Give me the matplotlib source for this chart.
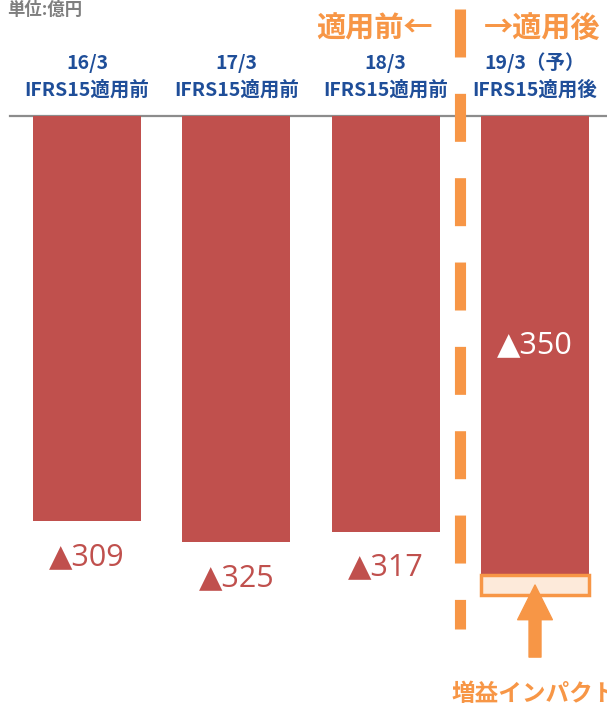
import matplotlib
matplotlib.use("Agg")
import matplotlib.pyplot as plt

# data (unit: 100 million yen, losses)
periods = ["16/3", "17/3", "18/3", "19/3（予）"]
basis = ["IFRS15適用前", "IFRS15適用前", "IFRS15適用前", "IFRS15適用後"]
losses = [309, 325, 317, 350]
impact = 15  # profit-increase impact shown under the last bar

red = "#C0504D"
orange = "#F79646"
blue = "#1F4E99"
jp = ["Noto Sans CJK JP", "DejaVu Sans"]
num = ["Open Sans", "DejaVu Sans"]

fig = plt.figure(figsize=(6.07, 7.06), dpi=100)
ax = fig.add_axes([0, 0, 1, 1])
ax.set_xlim(-0.5826, 3.482)
ax.set_ylim(-450.0, 88.5)
ax.axis("off")

x = list(range(len(losses)))
ax.bar(x, [-v for v in losses], width=0.725, color=red, zorder=2)
ax.bar(x[-1], -impact, bottom=-losses[-1], width=0.725, color="#FDEADA",
       edgecolor=orange, linewidth=2.5, zorder=3)

# baseline
ax.plot([-0.516, 3.482], [0, 0], color="#8c8c8c", lw=1.6, zorder=1)

# value labels
for i, v in enumerate(losses[:-1]):
    ax.text(i, -v - 27.4, "▲" + str(v), ha="center", va="center",
            fontsize=22, color=red, family=num)
ax.text(x[-1], -losses[-1] / 2, "▲" + str(losses[-1]), ha="center", va="center",
        fontsize=22, color="white", family=num, zorder=4)

# header labels
for i in x:
    ax.text(i, 40.4, periods[i], ha="center", va="center", fontsize=14,
            color=blue, family=jp, fontweight="bold")
    ax.text(i, 19.8, basis[i], ha="center", va="center", fontsize=14,
            color=blue, family=jp, fontweight="bold")

ax.text(-0.536, 80.9, "単位:億円", ha="left", va="center", fontsize=12.5,
        color="#7f7f7f", family=jp, fontweight="bold")

# before / after divider
ax.plot([2.5, 2.5], [81.6, -391.5], color=orange, lw=8, solid_capstyle="butt",
        dash_capstyle="butt", linestyle=(0, (47.5 / 11, 36 / 11)), zorder=5)
ax.text(1.925, 67.1, "適用前←", ha="center", va="center", fontsize=21,
        color=orange, family=jp, fontweight="bold")
ax.text(3.047, 67.1, "→適用後", ha="center", va="center", fontsize=21,
        color=orange, family=jp, fontweight="bold")

# impact arrow
ax.annotate("", xy=(x[-1], -357.7), xytext=(x[-1], -412.7),
            arrowprops=dict(arrowstyle="simple,head_length=25,head_width=25,tail_width=8.6",
                            mutation_scale=1, color=orange, shrinkA=0, shrinkB=0),
            zorder=6)
# the reference crops this label at the right edge as well
ax.text(2.44, -440.9, "増益インパクト", ha="left", va="center", fontsize=17,
        color=orange, family=jp, fontweight="bold")

fig.savefig("out.png", dpi=100)
